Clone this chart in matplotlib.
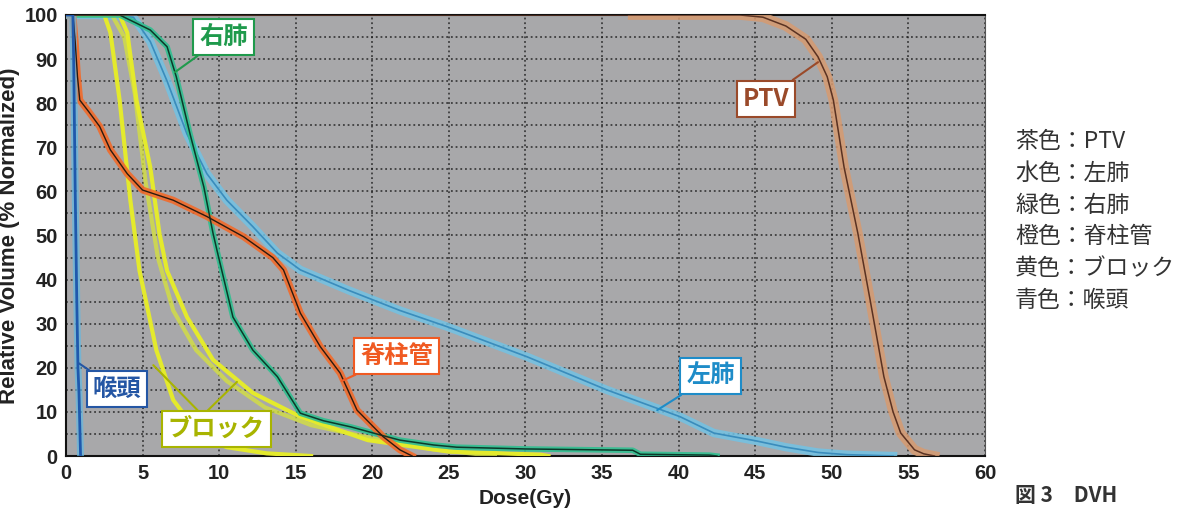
import matplotlib.pyplot as plt
from matplotlib.ticker import MultipleLocator

plt.rcParams['font.family'] = ['Liberation Sans', 'DejaVu Sans']

# DVH curves (dose in Gy, relative volume in %)
ptv_dose = [0, 37, 44, 45.5, 47, 48.3, 49.1, 49.7, 50.1, 50.8, 51.7, 52.5, 53.4, 54.0, 54.5, 55.4, 56.0, 56.7]
ptv_vol = [100, 100, 100, 99.5, 97.5, 94.5, 90.5, 86, 80.7, 65.5, 50.5, 35.4, 18, 10, 5.2, 1.4, 0.5, 0]

lung_l_dose = [0, 2.0, 4.4, 5.5, 6.6, 7.9, 9.2, 10.5, 12.2, 13.8, 15.3, 18.5, 21.8, 24.9,
               30.1, 35.3, 40.1, 42.3, 45.1, 47, 49.1, 51, 54]
lung_l_vol = [100, 100, 99.5, 94, 85, 73, 64, 58, 52, 46, 42.2, 37.5, 33, 29.3,
              22.5, 15.0, 8.9, 5.2, 3.4, 2, 0.8, 0.3, 0]

lung_r_dose = [0, 3.5, 5.5, 6.6, 7.2, 8.1, 9.0, 9.6, 9.9, 10.9, 12.2, 13.8, 15.3, 16.8,
               18.6, 20.5, 21.8, 24, 25.5, 30, 37, 37.5, 42, 42.5]
lung_r_vol = [100, 100, 96.6, 92.8, 86, 73, 61, 50.5, 46, 31.5, 24, 18, 9.7, 8,
              6.6, 4.8, 3.6, 2.5, 2.0, 1.6, 1.3, 0.4, 0.2, 0]

cord_dose = [0, 0.45, 0.6, 0.75, 0.9, 1.5, 2.2, 2.9, 4.0, 5.0, 7.0, 9.2, 11.6, 13.5,
             14.2, 15.3, 16.6, 17.9, 19.0, 20.7, 21.8, 22.6]
cord_vol = [100, 100, 94, 86, 80.7, 78, 74.7, 69.4, 64, 60.3, 58, 54.3, 49.7, 45,
            42.2, 32.4, 24.8, 18.8, 10.4, 4.4, 1.4, 0]

block1_dose = [0, 2.5, 2.9, 3.5, 4.2, 4.8, 5.9, 7.0, 8.8, 10.5, 13.1, 16]
block1_vol = [100, 100, 96, 80.7, 58, 42, 24, 12.7, 4.4, 2, 0.6, 0]
block2_dose = [0, 3.5, 4.0, 4.6, 5.5, 6.1, 6.6, 7.9, 9.6, 12.2, 15.3, 19.7, 25, 31, 31.5]
block2_vol = [100, 100, 96, 80.7, 65.5, 50.5, 42, 31.5, 21.8, 14.3, 8.9, 3.6, 1.0, 0.3, 0]
block3_dose = [0, 3.0, 3.8, 4.5, 5.2, 6.0, 7.0, 8.5, 10.5, 13, 16, 20, 24, 28]
block3_vol = [100, 100, 95, 82, 62, 45, 33, 24, 17, 11, 7, 4, 1.5, 0]

larynx_dose = [0, 0.45, 0.5, 0.6, 0.7, 0.78, 0.85, 0.95]
larynx_vol = [100, 100, 90, 60, 36, 20, 14, 0]

legend_lines = ['茶色：PTV', '水色：左肺', '緑色：右肺', '橙色：脊柱管', '黄色：ブロック', '青色：喉頭']

fig = plt.figure(figsize=(11.85, 5.13), dpi=100)
ax = fig.add_axes([0.0557, 0.1111, 0.7755, 0.8597])
ax.set_facecolor('#a8a8aa')

# thick translucent halo + thin core, like the printed DVH
ax.plot(lung_l_dose, lung_l_vol, color='#72c2e4', lw=6, alpha=0.85, zorder=3)
ax.plot(lung_l_dose, lung_l_vol, color='#3a8cbc', lw=1.2, zorder=4)
ax.plot(block3_dose, block3_vol, color='#d4e040', lw=3, alpha=0.8, zorder=3)
ax.plot(block2_dose, block2_vol, color='#e4ea2c', lw=3, zorder=4)
ax.plot(block1_dose, block1_vol, color='#e4ea2c', lw=3, zorder=4)
ax.plot(lung_r_dose, lung_r_vol, color='#2fbf90', lw=4, alpha=0.9, zorder=5)
ax.plot(lung_r_dose, lung_r_vol, color='#0c3a2a', lw=1.1, zorder=6)
ax.plot(cord_dose, cord_vol, color='#f26a2a', lw=5, alpha=0.9, zorder=5)
ax.plot(cord_dose, cord_vol, color='#2a1a10', lw=1, zorder=6)
ax.plot(ptv_dose[1:], ptv_vol[1:], color='#d79a70', lw=7, alpha=0.85, zorder=5)
ax.plot(ptv_dose, ptv_vol, color='#5a3222', lw=1.1, zorder=6)
ax.plot(larynx_dose, larynx_vol, color='#62b8e2', lw=5, alpha=0.7, zorder=5)
ax.plot(larynx_dose, larynx_vol, color='#1f58ac', lw=2, zorder=6)

ax.set_xlim(0, 60)
ax.set_ylim(0, 100)
ax.xaxis.set_major_locator(MultipleLocator(5))
ax.yaxis.set_major_locator(MultipleLocator(10))
ax.yaxis.set_minor_locator(MultipleLocator(5))
ax.grid(True, which='both', color='#1a1a1a', linestyle=(0, (1, 1.6)), lw=1.3, alpha=0.75, zorder=1)
ax.set_axisbelow(True)
ax.tick_params(axis='both', which='both', length=0, pad=6, labelsize=14.5)
for lbl in ax.get_xticklabels() + ax.get_yticklabels():
    lbl.set_fontweight('bold')
    lbl.set_color('#222222')
for side in ['left', 'bottom', 'top']:
    ax.spines[side].set_color('#111111')
    ax.spines[side].set_linewidth(1.5)
ax.spines['right'].set_color('#555555')
ax.set_xlabel('Dose(Gy)', fontsize=15, fontweight='bold', color='#222222')
ax.xaxis.set_label_coords(0.5, -0.075)
ax.set_ylabel('Relative Volume (% Normalized)', fontsize=16, fontweight='bold', color='#222222')
ax.yaxis.set_label_coords(-0.05, 0.50)

jp = ['Noto Sans CJK JP', 'DejaVu Sans']


def label(text, xy, xytext, color):
    ax.annotate(text, xy=xy, xytext=xytext, ha='center', va='center',
                fontsize=17.5, fontweight='bold', color=color, family=jp, zorder=10,
                bbox=dict(boxstyle='square,pad=0.25', fc='white', ec=color, lw=1.5),
                arrowprops=dict(arrowstyle='-', color=color, lw=1.5, shrinkA=0, shrinkB=0))


label('右肺', (7.1, 87), (10.3, 95.0), '#1f9a4c')
label('PTV', (49.1, 89.3), (45.7, 81.0), '#9a4a2a')
label('脊柱管', (18.0, 17.0), (21.6, 22.7), '#f05a22')
label('左肺', (38.6, 10.4), (42.1, 18.1), '#1e8cc8')
label('喉頭', (0.85, 21.0), (3.33, 15.2), '#2456a4')
label('ブロック', (5.7, 20.6), (9.8, 6.1), '#a8b400')
ax.annotate('', xy=(11.16, 16.8), xytext=(9.1, 9.8), zorder=9,
            arrowprops=dict(arrowstyle='-', color='#a8b400', lw=1.5, shrinkA=0, shrinkB=0))

for i, t in enumerate(legend_lines):
    fig.text(1015 / 1185, 1 - (142 + i * 31.6) / 513, t, fontsize=16.5, family=jp,
             color='#333333', va='center', ha='left')
fig.text(1015 / 1185, 1 - 495 / 513, '図 3　DVH', fontsize=15, fontweight='bold', family=jp,
         color='#333333', va='center', ha='left')

fig.savefig('out.png', dpi=100)
